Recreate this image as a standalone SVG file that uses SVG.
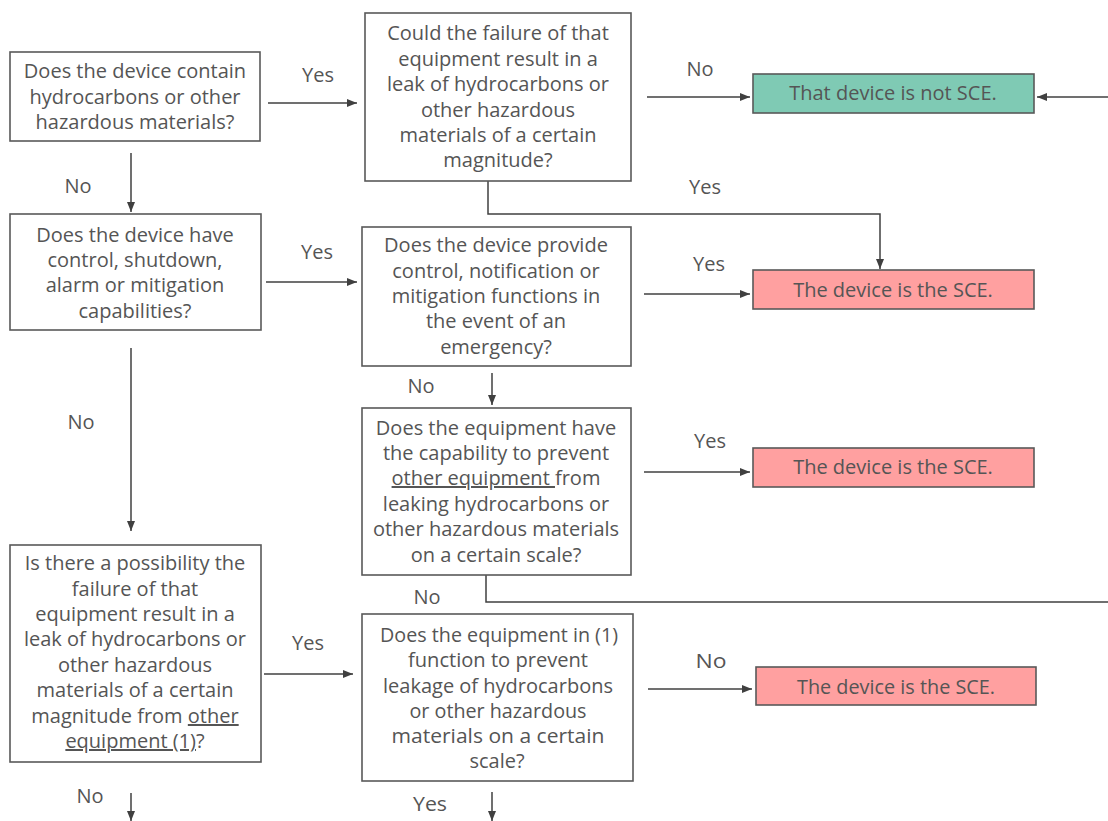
<svg xmlns="http://www.w3.org/2000/svg" width="1108" height="821" viewBox="0 0 1108 821">
  <style>
    .box { fill: #ffffff; stroke: #595959; stroke-width: 1.6; }
    .ok { fill: #7fcab4; stroke: #595959; stroke-width: 1.6; }
    .sce { fill: #ffa0a0; stroke: #595959; stroke-width: 1.6; }
    text { font-family: "Open Sans", "Noto Sans", "Liberation Sans", sans-serif; font-size: 20px; fill: #555555; text-anchor: middle; }
    .u { text-decoration: underline; }
    .edge { fill: none; stroke: #404040; stroke-width: 1.5; }
  </style>
  <defs>
    <marker id="arrow" viewBox="0 0 10 10" refX="10" refY="5" markerWidth="10" markerHeight="10" markerUnits="userSpaceOnUse" orient="auto">
      <path d="M0,1 L10,5 L0,9 Z" fill="#404040"/>
    </marker>
  </defs>

  <!-- connectors -->
  <g id="connectors">
    <line class="edge" x1="268" y1="103" x2="357" y2="103" marker-end="url(#arrow)"/>
    <line class="edge" x1="647" y1="97" x2="750" y2="97" marker-end="url(#arrow)"/>
    <line class="edge" x1="1108" y1="97" x2="1037" y2="97" marker-end="url(#arrow)"/>
    <polyline class="edge" points="488,181 488,214 880,214 880,269" marker-end="url(#arrow)"/>
    <line class="edge" x1="131" y1="153" x2="131" y2="212" marker-end="url(#arrow)"/>
    <line class="edge" x1="266" y1="282" x2="357" y2="282" marker-end="url(#arrow)"/>
    <line class="edge" x1="644" y1="294" x2="750" y2="294" marker-end="url(#arrow)"/>
    <line class="edge" x1="492" y1="373" x2="492" y2="405" marker-end="url(#arrow)"/>
    <line class="edge" x1="644" y1="472" x2="750" y2="472" marker-end="url(#arrow)"/>
    <polyline class="edge" points="486,575 486,602 1108,602"/>
    <line class="edge" x1="131" y1="348" x2="131" y2="531" marker-end="url(#arrow)"/>
    <line class="edge" x1="264" y1="674" x2="353" y2="674" marker-end="url(#arrow)"/>
    <line class="edge" x1="648" y1="689" x2="752" y2="689" marker-end="url(#arrow)"/>
    <line class="edge" x1="492" y1="792" x2="492" y2="821" marker-end="url(#arrow)"/>
    <line class="edge" x1="131" y1="793" x2="131" y2="821" marker-end="url(#arrow)"/>
  </g>

  <!-- connector labels -->
  <g id="labels">
    <text x="318" y="82">Yes</text>
    <text x="700" y="76">No</text>
    <text x="705" y="194">Yes</text>
    <text x="78" y="193">No</text>
    <text x="317" y="259">Yes</text>
    <text x="709" y="271">Yes</text>
    <text x="421" y="393">No</text>
    <text x="710" y="448">Yes</text>
    <text x="81" y="429">No</text>
    <text x="427" y="604">No</text>
    <text x="308" y="650">Yes</text>
    <text x="711" y="668" textLength="31" lengthAdjust="spacingAndGlyphs">No</text>
    <text x="430" y="811" textLength="34" lengthAdjust="spacingAndGlyphs">Yes</text>
    <text x="90" y="803">No</text>
  </g>

  <g id="q-contains">
    <rect class="box" x="10" y="52" width="250" height="89"/>
    <text x="135" y="78">Does the device contain</text>
    <text x="135" y="104">hydrocarbons or other</text>
    <text x="135" y="129">hazardous materials?</text>
  </g>

  <g id="q-failure-leak">
    <rect class="box" x="365" y="13" width="266" height="168"/>
    <text x="498" y="40">Could the failure of that</text>
    <text x="498" y="66">equipment result in a</text>
    <text x="498" y="91">leak of hydrocarbons or</text>
    <text x="498" y="117">other hazardous</text>
    <text x="498" y="142">materials of a certain</text>
    <text x="498" y="167">magnitude?</text>
  </g>

  <g id="not-sce">
    <rect class="ok" x="753" y="74" width="281" height="39"/>
    <text x="893" y="100">That device is not SCE.</text>
  </g>

  <g id="sce-1">
    <rect class="sce" x="753" y="270" width="281" height="39"/>
    <text x="893" y="297">The device is the SCE.</text>
  </g>

  <g id="q-control">
    <rect class="box" x="10" y="214" width="251" height="116"/>
    <text x="135" y="242">Does the device have</text>
    <text x="135" y="267">control, shutdown,</text>
    <text x="135" y="292">alarm or mitigation</text>
    <text x="135" y="318">capabilities?</text>
  </g>

  <g id="q-emergency">
    <rect class="box" x="362" y="227" width="269" height="139"/>
    <text x="496" y="252">Does the device provide</text>
    <text x="496" y="278">control, notification or</text>
    <text x="496" y="303">mitigation functions in</text>
    <text x="496" y="328">the event of an</text>
    <text x="496" y="354">emergency?</text>
  </g>

  <g id="q-prevent-other">
    <rect class="box" x="362" y="408" width="269" height="167"/>
    <text x="496" y="435">Does the equipment have</text>
    <text x="496" y="460">the capability to prevent</text>
    <text x="496" y="485"><tspan class="u">other equipment </tspan>from</text>
    <text x="496" y="511">leaking hydrocarbons or</text>
    <text x="496" y="536">other hazardous materials</text>
    <text x="496" y="562">on a certain scale?</text>
  </g>

  <g id="sce-2">
    <rect class="sce" x="753" y="448" width="281" height="39"/>
    <text x="893" y="474">The device is the SCE.</text>
  </g>

  <g id="q-other-leak">
    <rect class="box" x="10" y="545" width="251" height="217"/>
    <text x="135" y="570">Is there a possibility the</text>
    <text x="135" y="596">failure of that</text>
    <text x="135" y="621">equipment result in a</text>
    <text x="135" y="646">leak of hydrocarbons or</text>
    <text x="135" y="672">other hazardous</text>
    <text x="135" y="697">materials of a certain</text>
    <text x="135" y="723">magnitude from <tspan class="u">other</tspan></text>
    <text x="135" y="748"><tspan class="u">equipment (1)</tspan>?</text>
  </g>

  <!-- this box and its result use a slightly narrower setting -->
  <g id="q-equipment-1">
    <rect class="box" x="362" y="614" width="271" height="167"/>
    <text x="499" y="642" textLength="238" lengthAdjust="spacingAndGlyphs">Does the equipment in (1)</text>
    <text x="498" y="667" textLength="180" lengthAdjust="spacingAndGlyphs">function to prevent</text>
    <text x="498" y="693" textLength="230" lengthAdjust="spacingAndGlyphs">leakage of hydrocarbons</text>
    <text x="498" y="718" textLength="177" lengthAdjust="spacingAndGlyphs">or other hazardous</text>
    <text x="498" y="743" textLength="213" lengthAdjust="spacingAndGlyphs">materials on a certain</text>
    <text x="497" y="768" textLength="55" lengthAdjust="spacingAndGlyphs">scale?</text>
  </g>

  <g id="sce-3">
    <rect class="sce" x="756" y="667" width="280" height="38"/>
    <text x="896" y="694" textLength="198" lengthAdjust="spacingAndGlyphs">The device is the SCE.</text>
  </g>
</svg>
